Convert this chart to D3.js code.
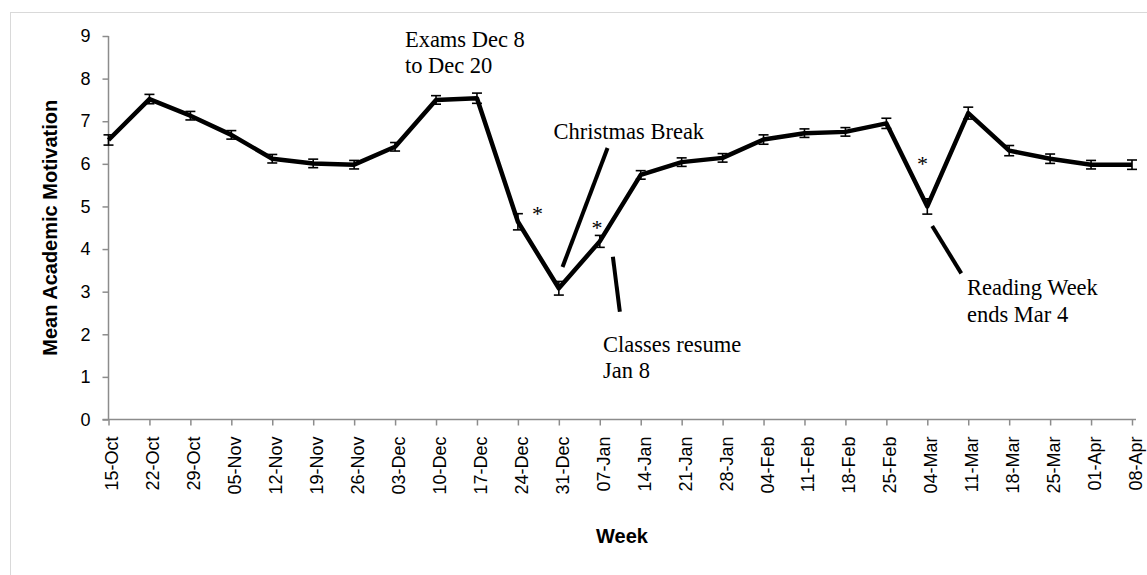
<!DOCTYPE html>
<html>
<head>
<meta charset="utf-8">
<script src="https://cdn.jsdelivr.net/npm/d3@7"></script>
<style>
  html, body { margin: 0; padding: 0; background: #ffffff; }
  svg { display: block; }
  .tick text { font-family: "Liberation Sans", Arial, sans-serif; font-size: 18px; fill: #000; }
</style>
</head>
<body>
<svg id="chart" width="1147" height="575"></svg>
<script>
// ---------- data ----------
const categories = ["15-Oct","22-Oct","29-Oct","05-Nov","12-Nov","19-Nov","26-Nov","03-Dec","10-Dec","17-Dec",
  "24-Dec","31-Dec","07-Jan","14-Jan","21-Jan","28-Jan","04-Feb","11-Feb","18-Feb","25-Feb",
  "04-Mar","11-Mar","18-Mar","25-Mar","01-Apr","08-Apr"];
const means = [6.56, 7.52, 7.13, 6.68, 6.12, 6.01, 5.98, 6.40, 7.50, 7.54,
  4.64, 3.08, 4.18, 5.74, 6.04, 6.14, 6.57, 6.72, 6.75, 6.95,
  5.00, 7.19, 6.31, 6.12, 5.98, 5.98];
const errors = [0.12, 0.11, 0.10, 0.10, 0.10, 0.10, 0.10, 0.10, 0.10, 0.12,
  0.19, 0.16, 0.14, 0.10, 0.10, 0.10, 0.11, 0.10, 0.10, 0.12,
  0.18, 0.14, 0.12, 0.11, 0.10, 0.11];
const yTicks = [0, 1, 2, 3, 4, 5, 6, 7, 8, 9];
const yTitle = "Mean Academic Motivation";
const xTitle = "Week";
// annotations in data coordinates (category index, value)
const annotationTexts = [
  { lines: ["Exams Dec 8", "to Dec 20"], i: 7.24, v: 8.75 },
  { lines: ["Christmas Break"], i: 10.87, v: 6.58 },
  { lines: ["Classes resume", "Jan 8"], i: 12.08, v: 1.59 },
  { lines: ["Reading Week", "ends Mar 4"], i: 20.97, v: 2.92 }
];
const annotationLines = [
  { i1: 12.19, v1: 6.37, i2: 11.09, v2: 3.58 },
  { i1: 12.32, v1: 3.82, i2: 12.49, v2: 2.53 },
  { i1: 20.12, v1: 4.54, i2: 20.83, v2: 3.43 }
];
const asterisks = [
  { i: 10.48, v: 4.92 },
  { i: 11.93, v: 4.58 },
  { i: 19.88, v: 6.09 }
];

// ---------- layout ----------
const svg = d3.select("#chart");
const pLeft = 108.5, pRight = 1132, pTop = 36, pBottom = 419.5;
const axisColor = "#8c8c8c";

// outer frame
svg.append("rect").attr("x", 10.5).attr("y", 12.5).attr("width", 1150).attr("height", 620)
  .attr("fill", "none").attr("stroke", "#d9d9d9").attr("stroke-width", 1);

const x = d3.scalePoint().domain(categories).range([pLeft, pRight]).padding(0);
const xi = d3.scaleLinear().domain([0, categories.length - 1]).range([pLeft, pRight]);
const y = d3.scaleLinear().domain([0, 9]).range([pBottom, pTop]);

// y axis
const yAxis = svg.append("g").attr("transform", `translate(${pLeft},0)`)
  .call(d3.axisLeft(y).tickValues(yTicks).tickSize(6).tickPadding(12).tickFormat(d3.format("d")));
yAxis.attr("font-size", null).attr("font-family", null);
yAxis.select(".domain").attr("stroke", axisColor).attr("stroke-width", 1.5).attr("d", `M0,${pTop}V${pBottom}`);
yAxis.selectAll(".tick line").attr("stroke", axisColor).attr("stroke-width", 1.5);

// x axis
const xAxis = svg.append("g").attr("transform", `translate(0,${pBottom})`)
  .call(d3.axisBottom(x).tickSize(6).tickSizeOuter(0));
xAxis.attr("font-size", null).attr("font-family", null);
xAxis.select(".domain").attr("stroke", axisColor).attr("stroke-width", 1.5).attr("d", `M${pLeft - 6},0H${pRight + 4}`);
xAxis.selectAll(".tick line").attr("stroke", axisColor).attr("stroke-width", 1.5);
xAxis.selectAll(".tick text")
  .attr("text-anchor", "end")
  .attr("transform", "translate(3,17) rotate(-90)")
  .attr("x", 0).attr("y", 0).attr("dy", "0.36em");

// axis titles
svg.append("text")
  .attr("transform", `translate(57,${(pTop + pBottom) / 2}) rotate(-90)`)
  .attr("text-anchor", "middle")
  .attr("font-family", "Liberation Sans, Arial, sans-serif").attr("font-weight", "bold")
  .attr("font-size", 20).attr("fill", "#000").text(yTitle);
svg.append("text")
  .attr("x", 622).attr("y", 543).attr("text-anchor", "middle")
  .attr("font-family", "Liberation Sans, Arial, sans-serif").attr("font-weight", "bold")
  .attr("font-size", 20).attr("fill", "#000").text(xTitle);

// error bars
const eb = svg.append("g").attr("stroke", "#000").attr("stroke-width", 1.6).attr("fill", "none");
categories.forEach((c, k) => {
  const cx = x(c), y1 = y(means[k] + errors[k]), y2 = y(means[k] - errors[k]);
  eb.append("line").attr("x1", cx).attr("x2", cx).attr("y1", y1).attr("y2", y2);
  eb.append("line").attr("x1", cx - 5).attr("x2", cx + 5).attr("y1", y1).attr("y2", y1);
  eb.append("line").attr("x1", cx - 5).attr("x2", cx + 5).attr("y1", y2).attr("y2", y2);
});

// main line
const line = d3.line().x((d, k) => x(categories[k])).y(d => y(d));
svg.append("path").datum(means).attr("d", line)
  .attr("fill", "none").attr("stroke", "#000").attr("stroke-width", 4.5)
  .attr("stroke-linejoin", "round");

// annotation lines
svg.append("g").selectAll("line").data(annotationLines).join("line")
  .attr("x1", d => xi(d.i1)).attr("y1", d => y(d.v1))
  .attr("x2", d => xi(d.i2)).attr("y2", d => y(d.v2))
  .attr("stroke", "#000").attr("stroke-width", 4);

// annotation texts
annotationTexts.forEach(a => {
  const t = svg.append("text").attr("x", xi(a.i)).attr("y", y(a.v))
    .attr("font-family", "Liberation Serif, Times New Roman, serif").attr("font-size", 22.5).attr("fill", "#000");
  a.lines.forEach((ln, k) => {
    t.append("tspan").attr("x", xi(a.i)).attr("dy", k === 0 ? 0 : "1.18em").text(ln);
  });
});

// asterisks
svg.append("g").selectAll("text").data(asterisks).join("text")
  .attr("x", d => xi(d.i)).attr("y", d => y(d.v) + 11)
  .attr("text-anchor", "middle")
  .attr("font-family", "Liberation Serif, Times New Roman, serif").attr("font-size", 22).attr("fill", "#000")
  .text("*");
</script>
</body>
</html>
